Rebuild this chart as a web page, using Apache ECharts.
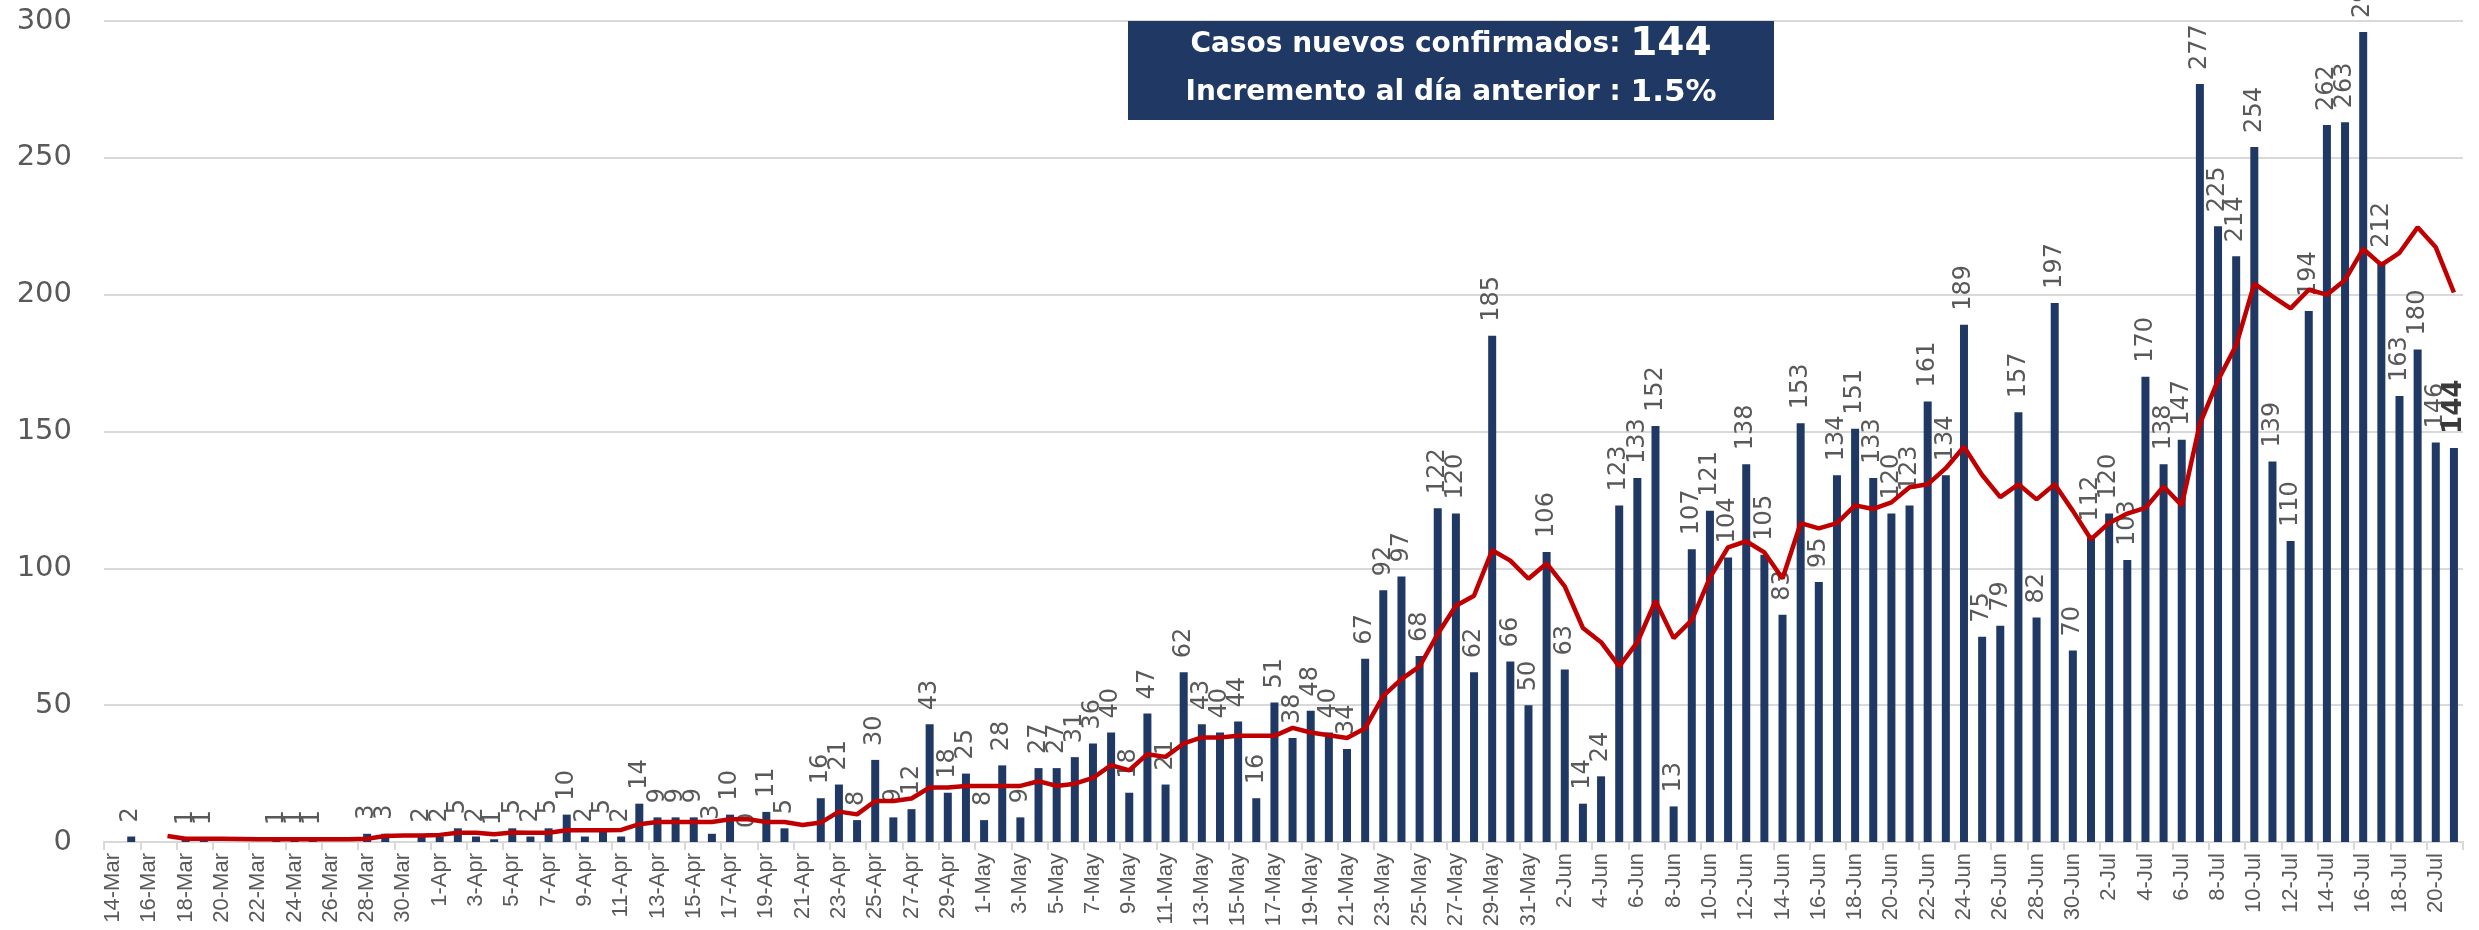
<!DOCTYPE html>
<html><head><meta charset="utf-8">
<script src="https://cdn.jsdelivr.net/npm/echarts@6/dist/echarts.min.js"></script>
<style>html,body{margin:0;padding:0;background:#fff}#c{width:2479px;height:930px}</style>
</head><body><div id="c"></div>
<script>
var dates = ['14-Mar','15-Mar','16-Mar','17-Mar','18-Mar','19-Mar','20-Mar','21-Mar','22-Mar','23-Mar','24-Mar','25-Mar','26-Mar','27-Mar','28-Mar','29-Mar','30-Mar','31-Mar',
'1-Apr','2-Apr','3-Apr','4-Apr','5-Apr','6-Apr','7-Apr','8-Apr','9-Apr','10-Apr','11-Apr','12-Apr','13-Apr','14-Apr','15-Apr','16-Apr','17-Apr','18-Apr','19-Apr','20-Apr','21-Apr','22-Apr','23-Apr','24-Apr','25-Apr','26-Apr','27-Apr','28-Apr','29-Apr','30-Apr',
'1-May','2-May','3-May','4-May','5-May','6-May','7-May','8-May','9-May','10-May','11-May','12-May','13-May','14-May','15-May','16-May','17-May','18-May','19-May','20-May','21-May','22-May','23-May','24-May','25-May','26-May','27-May','28-May','29-May','30-May','31-May',
'1-Jun','2-Jun','3-Jun','4-Jun','5-Jun','6-Jun','7-Jun','8-Jun','9-Jun','10-Jun','11-Jun','12-Jun','13-Jun','14-Jun','15-Jun','16-Jun','17-Jun','18-Jun','19-Jun','20-Jun','21-Jun','22-Jun','23-Jun','24-Jun','25-Jun','26-Jun','27-Jun','28-Jun','29-Jun','30-Jun',
'1-Jul','2-Jul','3-Jul','4-Jul','5-Jul','6-Jul','7-Jul','8-Jul','9-Jul','10-Jul','11-Jul','12-Jul','13-Jul','14-Jul','15-Jul','16-Jul','17-Jul','18-Jul','19-Jul','20-Jul','21-Jul'];

var newCases = [null,2,null,null,1,1,null,null,null,1,1,1,null,null,3,3,null,2,
2,5,2,1,5,2,5,10,2,5,2,14,9,9,9,3,10,0,11,5,null,16,21,8,30,9,12,43,18,25,
8,28,9,27,27,31,36,40,18,47,21,62,43,40,44,16,51,38,48,40,34,67,92,97,68,122,120,62,185,66,50,
106,63,14,24,123,133,152,13,107,121,104,138,105,83,153,95,134,151,133,120,123,161,134,189,75,79,157,82,197,70,
112,120,103,170,138,147,277,225,214,254,139,110,194,262,263,296,212,163,180,146,144];

var avgLine = [null,null,null,2.2,1.2,1.2,1.2,1.1,1.0,1.0,1.0,1.0,1.0,1.0,1.2,2.2,2.4,2.4,
2.6,3.4,3.4,2.8,3.5,3.4,3.4,4.3,4.3,4.3,4.4,6.5,7.3,7.3,7.3,7.3,8.3,8.3,7.3,7.3,6.2,7.1,11.1,10.1,15,15,15.9,19.9,19.9,20.5,
20.5,20.5,20.5,22.2,20.5,21.3,23.4,28.1,26.2,32.1,31.1,36.0,38.2,38.2,38.8,38.8,38.8,41.7,40.0,39.0,38.0,41.6,53.4,59.5,64.2,76.0,86.3,90.0,106.6,102.8,96.2,
101.8,93.4,78.2,73.0,64.2,73.0,88.1,74.5,81.1,96.6,107.7,109.9,105.8,96.3,116.5,114.6,116.5,123.0,121.7,124.1,129.6,130.7,136.6,144.4,134.1,126.0,130.7,125.2,130.7,121.0,
110.6,116.6,120.0,122.1,129.9,123.0,152.8,168.7,181.5,204.0,199.4,195.0,201.8,200.0,205.4,216.7,210.9,215.3,224.6,217.3,200.8];

var yTicks = {min: 0, max: 300, step: 50};
var boxLine1 = 'Casos nuevos confirmados: ';
var boxValue1 = '144';
var boxLine2 = 'Incremento al día anterior : ';
var boxValue2 = '1.5%';

var barData = newCases.map(function (v, i) {
  if (i === newCases.length - 1) {
    return {value: v, label: {fontWeight: 'bold', color: '#3a3a3a', fontSize: 26}};
  }
  return v;
});

var chart = echarts.init(document.getElementById('c'), null, {renderer: 'canvas'});
chart.setOption({
  animation: false,
  backgroundColor: '#ffffff',
  grid: {left: 104, right: 16, top: 21, bottom: 88, containLabel: false},
  xAxis: {
    type: 'category',
    data: dates,
    boundaryGap: true,
    axisLine: {lineStyle: {color: '#d9d9d9', width: 2}},
    axisTick: {show: true, interval: 1, length: 8, lineStyle: {color: '#d9d9d9', width: 2}},
    axisLabel: {interval: 1, rotate: 90, color: '#595959', fontFamily: 'Liberation Sans', fontSize: 22, margin: 11}
  },
  yAxis: {
    type: 'value',
    min: yTicks.min, max: yTicks.max, interval: yTicks.step,
    axisLine: {show: false},
    axisTick: {show: false},
    splitLine: {lineStyle: {color: '#d9d9d9', width: 2}},
    axisLabel: {color: '#595959', fontFamily: 'DejaVu Sans', fontSize: 29, margin: 32}
  },
  series: [
    {
      type: 'bar',
      data: barData,
      barWidth: 8,
      itemStyle: {color: '#203864'},
      z: 2,
      label: {
        show: true, position: 'top', rotate: 90, align: 'left', verticalAlign: 'middle',
        distance: 14, color: '#595959', fontFamily: 'DejaVu Sans', fontSize: 24
      }
    },
    {
      type: 'line',
      data: avgLine,
      showSymbol: false,
      symbol: 'none',
      connectNulls: false,
      lineStyle: {color: '#c00000', width: 4.5},
      itemStyle: {color: '#c00000'},
      z: 3
    }
  ],
  graphic: [
    {type: 'rect', shape: {x: 1128, y: 21, width: 646, height: 99}, style: {fill: '#203864'}, z: 10},
    {type: 'text', z: 11, style: {
      x: 1451, y: 45, align: 'center', verticalAlign: 'middle',
      text: '{a|' + boxLine1 + '}{b|' + boxValue1 + '}',
      rich: {
        a: {fontFamily: 'DejaVu Sans', fontSize: 28, fontWeight: 'bold', fill: '#ffffff', color: '#ffffff'},
        b: {fontFamily: 'DejaVu Sans', fontSize: 39, fontWeight: 'bold', fill: '#ffffff', color: '#ffffff'}
      }
    }},
    {type: 'text', z: 11, style: {
      x: 1451, y: 93, align: 'center', verticalAlign: 'middle',
      text: '{a|' + boxLine2 + '}{b|' + boxValue2 + '}',
      rich: {
        a: {fontFamily: 'DejaVu Sans', fontSize: 28, fontWeight: 'bold', fill: '#ffffff', color: '#ffffff'},
        b: {fontFamily: 'DejaVu Sans', fontSize: 31, fontWeight: 'bold', fill: '#ffffff', color: '#ffffff'}
      }
    }}
  ]
});
</script>
</body></html>
